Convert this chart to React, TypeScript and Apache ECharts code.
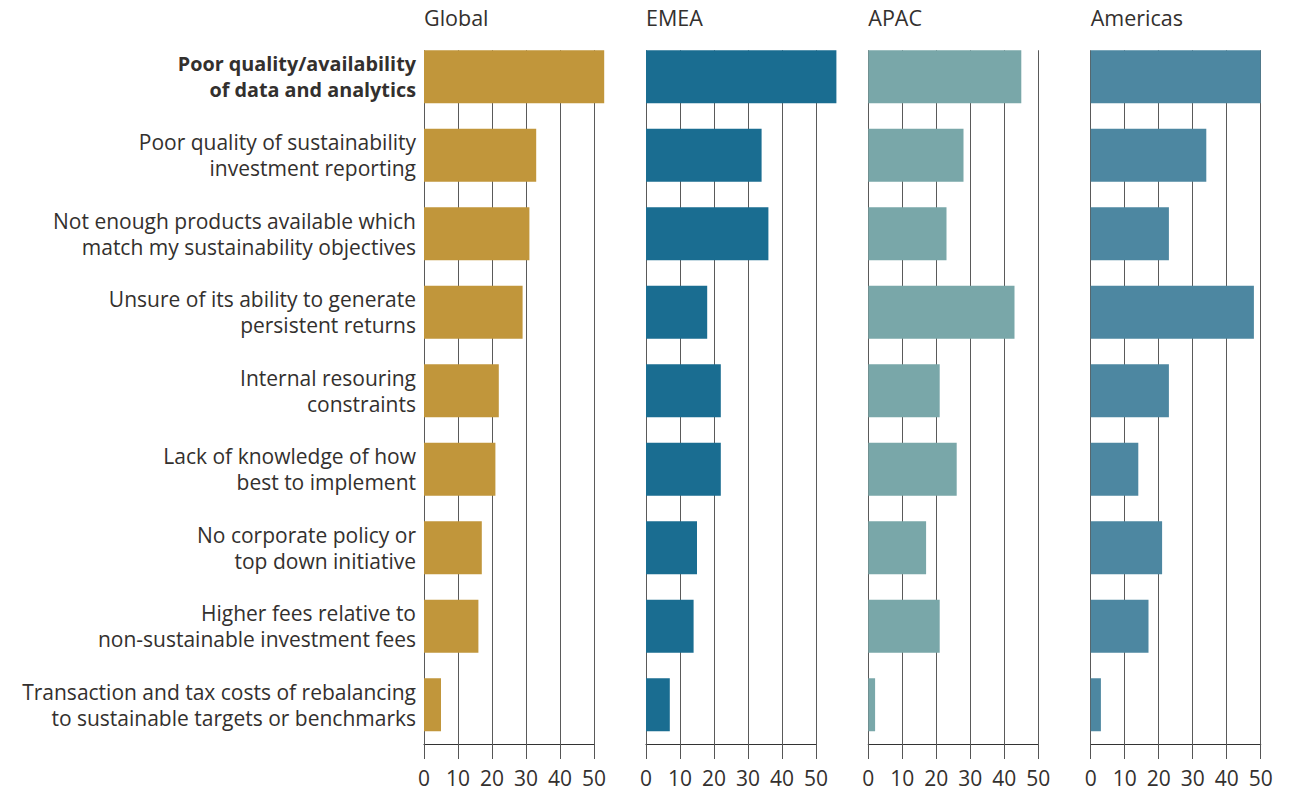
import React, { useEffect, useRef } from "react";
import * as echarts from "echarts";

const categories = [
  "Poor quality/availability\nof data and analytics",
  "Poor quality of sustainability\ninvestment reporting",
  "Not enough products available which\nmatch my sustainability objectives",
  "Unsure of its ability to generate\npersistent returns",
  "Internal resouring\nconstraints",
  "Lack of knowledge of how\nbest to implement",
  "No corporate policy or\ntop down initiative",
  "Higher fees relative to\nnon-sustainable investment fees",
  "Transaction and tax costs of rebalancing\nto sustainable targets or benchmarks",
];

const regions = ["Global", "EMEA", "APAC", "Americas"];

const globalValues = [53, 33, 31, 29, 22, 21, 17, 16, 5];
const emeaValues = [56, 34, 36, 18, 22, 22, 15, 14, 7];
const apacValues = [45, 28, 23, 43, 21, 26, 17, 21, 2];
const americasValues = [50, 34, 23, 48, 23, 14, 21, 17, 3];

const seriesValues = [globalValues, emeaValues, apacValues, americasValues];
const colors = ["#C1963B", "#1A6D91", "#79A7A9", "#4D87A1"];

const FONT = "Open Sans";
const TEXT = "#33302e";

export default function App() {
  const ref = useRef<HTMLDivElement>(null);

  useEffect(() => {
    if (!ref.current) return;
    const chart = echarts.init(ref.current, undefined, { renderer: "svg" });
    const lefts = [424, 646, 868.3, 1090.7];
    const width = 170;
    const gridTop = 37.5;
    const gridBottom = 744;

    const grids = lefts.map((l) => ({
      left: l,
      top: gridTop,
      width: width,
      height: gridBottom - gridTop,
      containLabel: false,
    }));

    const xAxes = lefts.map((_, i) => ({
      type: "value",
      gridIndex: i,
      min: 0,
      max: 50,
      interval: 10,
      axisLine: { show: true, lineStyle: { color: "#333", width: 1.2 } },
      axisTick: { show: true, length: 15, lineStyle: { color: "#555", width: 1 } },
      axisLabel: {
        color: TEXT,
        fontSize: 21,
        fontFamily: FONT,
        margin: 23,
      },
      splitLine: { show: true, lineStyle: { color: "#5a5a5a", width: 1 } },
    }));

    const yAxes = lefts.map((_, i) => ({
      type: "category",
      gridIndex: i,
      data: categories,
      inverse: true,
      axisLine: { show: false },
      axisTick: { show: false },
      axisLabel: {
        show: i === 0,
        color: TEXT,
        fontSize: 21,
        fontFamily: FONT,
        lineHeight: 26,
        margin: 8,
        align: "right",
        formatter: (v: string, idx: number) => {
          if (idx === 0) {
            return v
              .split("\n")
              .map((s) => "{b|" + s + "}")
              .join("\n");
          }
          return v;
        },
        rich: {
          b: {
            fontWeight: "bold",
            fontSize: 19.8,
            fontFamily: FONT,
            lineHeight: 26,
            color: TEXT,
            align: "right",
          },
        },
      },
      splitLine: { show: false },
    }));

    const series = seriesValues.map((vals, i) => ({
      type: "bar",
      name: regions[i],
      xAxisIndex: i,
      yAxisIndex: i,
      data: vals,
      barCategoryGap: "32.5%",
      clip: false,
      z: 10,
      itemStyle: { color: colors[i] },
    }));

    const titles = regions.map((r, i) => ({
      text: r,
      left: lefts[i],
      top: 6,
      padding: 0,
      textStyle: {
        color: TEXT,
        fontSize: 21.5,
        fontWeight: "normal",
        fontFamily: FONT,
      },
    }));

    chart.setOption({
      animation: false,
      backgroundColor: "#ffffff",
      title: titles,
      grid: grids,
      xAxis: xAxes,
      yAxis: yAxes,
      series,
      graphic: lefts.map((l) => ({
        type: "rect",
        z: 5,
        shape: { x: l - 3, y: gridTop - 3, width: width + 6, height: 50.25 - gridTop + 3 },
        style: { fill: "#ffffff" },
      })),
    });
    return () => chart.dispose();
  }, []);

  return (
    <div
      ref={ref}
      style={{ position: "absolute", left: 0, top: 0, width: 1303, height: 791 }}
    />
  );
}
